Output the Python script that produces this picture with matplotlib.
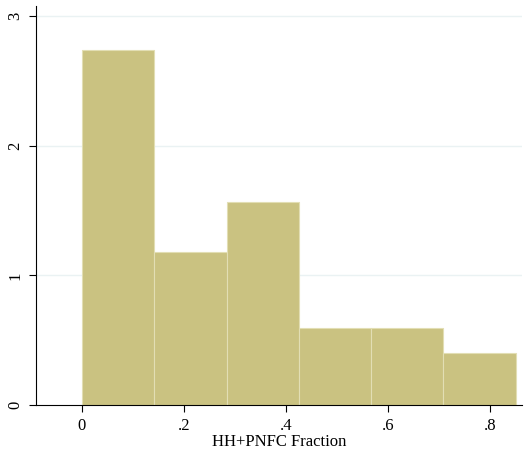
import numpy as np
import matplotlib
matplotlib.use("Agg")
import matplotlib.pyplot as plt

plt.rcParams['font.family'] = ['Liberation Serif', 'DejaVu Serif']

# histogram bins (density)
bin_width = 0.1418
bin_left = np.arange(6) * bin_width
density = [2.74, 1.18, 1.565, 0.594, 0.594, 0.40]

xticks = [0, 0.2, 0.4, 0.6, 0.8]
xtick_labels = ['0', '.2', '.4', '.6', '.8']
yticks = [0, 1, 2, 3]

fig = plt.figure(figsize=(5.24, 4.51), dpi=100)
ax = fig.add_axes([36/524, 46/451, 486/524, 399/451])

for y in yticks[1:]:
    ax.axhline(y, color='#eaf2f3', linewidth=1, zorder=0)

ax.bar(bin_left, density, width=bin_width, align='edge',
       color='#cac281', edgecolor='#e2deb4', linewidth=0.8, zorder=2)

ax.set_xlim(-0.09, 0.863)
ax.set_ylim(0, 3.08)

ax.set_xticks(xticks)
ax.set_xticklabels(xtick_labels, fontsize=12)
ax.set_yticks(yticks)
ax.set_yticklabels([str(v) for v in yticks], fontsize=12, rotation=90, va='center')
ax.tick_params(direction='out', length=5, width=0.8, pad=4)

ax.spines['top'].set_visible(False)
ax.spines['right'].set_visible(False)
ax.set_xlabel('HH+PNFC Fraction', fontsize=12, labelpad=0)

fig.savefig("out.png", dpi=100)
